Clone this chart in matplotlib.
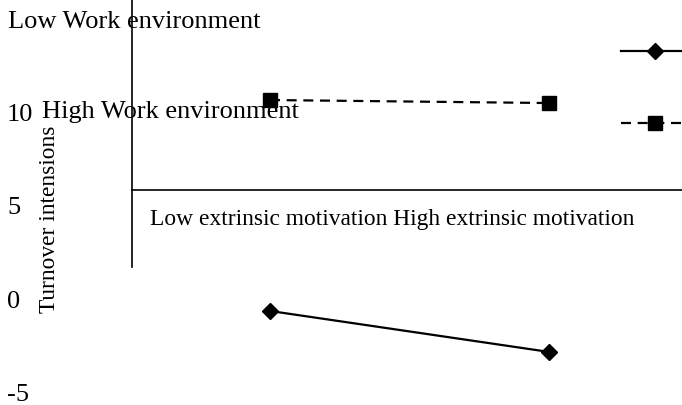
import matplotlib
matplotlib.use("Agg")
import matplotlib.pyplot as plt
from matplotlib.lines import Line2D

categories = ["Low extrinsic motivation", "High extrinsic motivation"]
low_work = [-0.64, -2.83]
high_work = [10.64, 10.48]
series_names = ["Low Work environment", "High Work environment"]
yticks = [10, 5, 0, -5]
ylabel = "Turnover intensions"

W, H = 682, 405
fig = plt.figure(figsize=(W / 100, H / 100), dpi=100)
ax = fig.add_axes([0, 0, 1, 1])

# pixel mapping helpers (x: category index -> px, y: value -> px)
x0px, dxpx = 270, 279
y0px, dypx = 299.0, 18.7
ax.set_xlim(-x0px / dxpx, (W - x0px) / dxpx)
ax.set_ylim((y0px - H) / dypx, y0px / dypx)

font = "Liberation Serif"
fs_leg = 19.0
fs_tick = 19.0
fs_cat = 16.9
fs_lab = 16.8

dash = (0, (4.5, 3.0))
xs = list(range(len(categories)))
ax.plot(xs, low_work, color="black", lw=1.6, marker="D", ms=8.5, zorder=3)
ax.plot(xs, high_work, color="black", lw=1.6, ls=dash, marker="s", ms=10, zorder=3)

# axis lines
for s in ["top", "right"]:
    ax.spines[s].set_visible(False)
axis_x = (132 - x0px) / dxpx
axis_y = (y0px - 190) / dypx
ax.spines["left"].set_position(("data", axis_x))
ax.spines["left"].set_bounds((y0px - 267) / dypx, y0px / dypx)
ax.spines["bottom"].set_position(("data", axis_y))
ax.spines["bottom"].set_bounds(axis_x, (W - x0px) / dxpx)
for s in ["left", "bottom"]:
    ax.spines[s].set_linewidth(1.2)
ax.set_xticks([])
ax.set_yticks([])

# tick labels on the left
tr = ax.get_yaxis_transform()
for t in yticks:
    ax.text(7 / W, t, str(t), transform=tr, ha="left", va="center_baseline",
            family=font, fontsize=fs_tick)

# category labels
ax.text(150 / W, 1 - 219 / H, " ".join(categories), transform=ax.transAxes,
        ha="left", va="center", family=font, fontsize=fs_cat)

# y label
ax.text(50 / W, 1 - 219 / H, ylabel, transform=ax.transAxes, rotation=90,
        ha="center", va="center", family=font, fontsize=fs_lab)

# legend texts
ax.text(8 / W, 1 - 22 / H, series_names[0], transform=ax.transAxes,
        ha="left", va="center", family=font, fontsize=fs_leg)
ax.text(42 / W, 1 - 112 / H, series_names[1], transform=ax.transAxes,
        ha="left", va="center", family=font, fontsize=fs_leg)

# legend handles
lx = [621 / W, 1.0]
ax.add_line(Line2D(lx, [1 - 51 / H] * 2, transform=ax.transAxes, color="black", lw=1.6))
ax.add_line(Line2D([655 / W], [1 - 51 / H], transform=ax.transAxes, color="black",
                   marker="D", ms=8.5, ls="none"))
ax.add_line(Line2D(lx, [1 - 123 / H] * 2, transform=ax.transAxes, color="black",
                   lw=1.6, ls=dash))
ax.add_line(Line2D([655 / W], [1 - 123 / H], transform=ax.transAxes, color="black",
                   marker="s", ms=10, ls="none"))

fig.savefig("out.png", dpi=100)
